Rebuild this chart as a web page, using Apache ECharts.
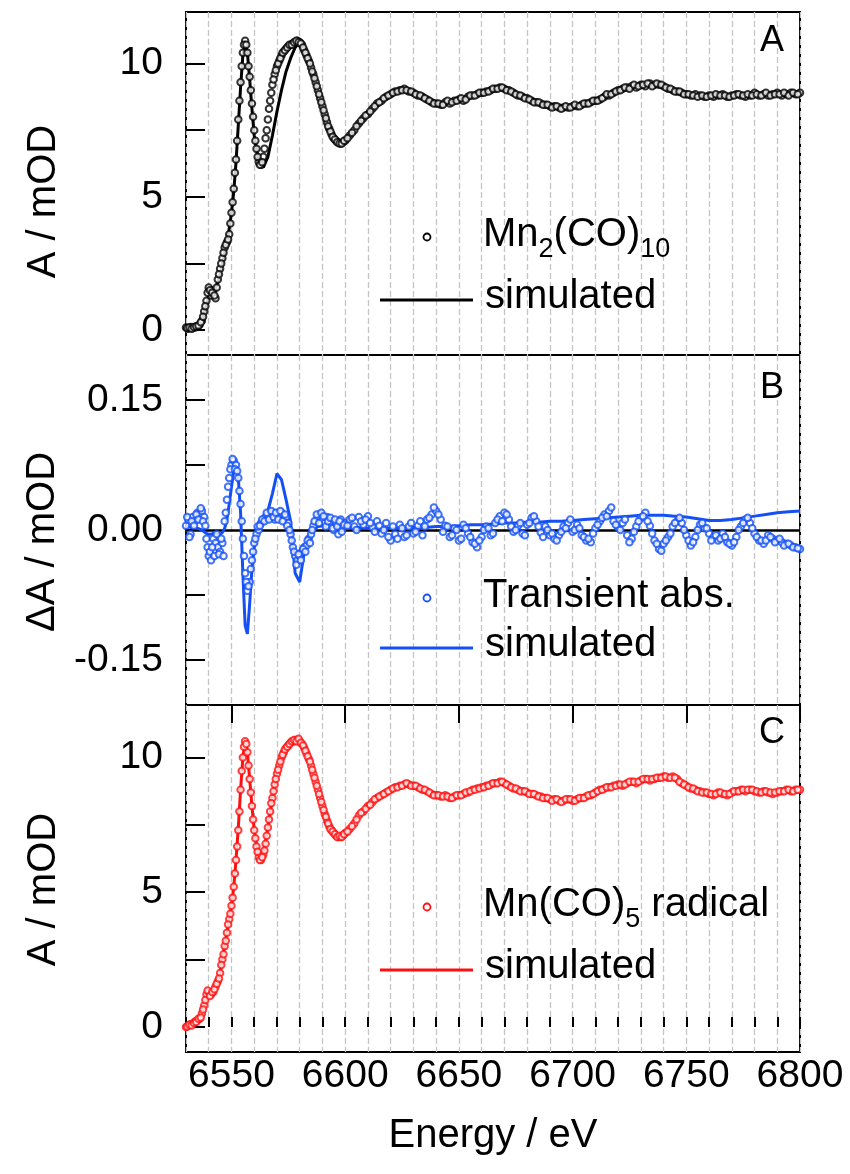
<!DOCTYPE html>
<html>
<head>
<meta charset="utf-8">
<script src="https://cdn.jsdelivr.net/npm/echarts@6/dist/echarts.min.js"></script>
<style>
html,body{margin:0;padding:0;background:#fff;}
#chart{width:850px;height:1174px;}
</style>
</head>
<body>
<div id="chart"></div>
<script>
// ---------- DATA ----------
// measured points, first pass (integer / even energies)
const E_DATA = [
6530,6531,6532,6533,6534,6535,6536,6537,6538,6539,
6540,6541,6542,6543,6544,6545,6546,6547,6548,6549,
6550,6551,6552,6553,6554,6555,6556,6557,6558,6559,
6560,6561,6562,6563,6564,6565,6566,6567,6568,6569,
6570,6571,6572,6573,6574,6575,6576,6577,6578,6579,
6580,6581,6582,6583,6584,6585,6586,6587,6588,6589,
6590,6591,6592,6593,6594,6595,6596,6597,6598,6599,
6600,
6602,6604,6606,6608,6610,6612,6614,6616,6618,6620,
6622,6624,6626,6628,6630,6632,6634,6636,6638,6640,
6642,6644,6646,6648,6650,6652,6654,6656,6658,6660,
6662,6664,6666,6668,6670,6672,6674,6676,6678,6680,
6682,6684,6686,6688,6690,6692,6694,6696,6698,6700,
6702,6704,6706,6708,6710,6712,6714,6716,6718,6720,
6722,6724,6726,6728,6730,6732,6734,6736,6738,6740,
6742,6744,6746,6748,6750,6752,6754,6756,6758,6760,
6762,6764,6766,6768,6770,6772,6774,6776,6778,6780,
6782,6784,6786,6788,6790,6792,6794,6796,6798,6800
];
const A_DATA = [
0.1,0.05,0.12,0.08,0.1,0.15,0.2,0.35,0.7,1.1,
1.6,1.3,1.5,1.2,1.9,2.3,2.7,3.1,3.3,3.6,
4.4,5.3,6.4,7.9,9.3,10.4,10.85,10.4,9.5,8.5,
7.5,6.8,6.3,6.2,6.5,7.2,7.9,8.6,9.2,9.6,
9.9,10.1,10.3,10.45,10.55,10.65,10.7,10.75,10.8,10.85,
10.8,10.7,10.5,10.3,10.1,9.85,9.6,9.3,9.0,8.7,
8.4,8.1,7.8,7.55,7.35,7.2,7.1,7.05,7.0,7.05,
7.1,
7.3,7.5,7.75,7.95,8.1,8.3,8.5,8.6,8.75,8.85,
8.95,9.0,9.05,8.95,8.9,8.8,8.75,8.65,8.55,8.5,
8.45,8.55,8.5,8.6,8.65,8.6,8.75,8.8,8.85,8.9,
8.95,9.0,9.05,9.1,9.05,9.0,8.9,8.8,8.75,8.7,
8.6,8.55,8.5,8.45,8.4,8.4,8.35,8.35,8.35,8.4,
8.4,8.45,8.5,8.55,8.6,8.65,8.75,8.8,8.9,9.0,
9.05,9.1,9.15,9.1,9.2,9.15,9.25,9.2,9.2,9.15,
9.05,9.0,8.95,8.9,8.85,8.8,8.85,8.8,8.75,8.8,
8.75,8.8,8.85,8.75,8.8,8.85,8.8,8.75,8.8,8.9,
8.8,8.85,8.8,8.85,8.9,8.8,8.85,8.9,8.85,8.9
];
const B_DATA = [
0.005,0.012,-0.005,0.015,0.01,0.02,0.018,0.022,0.015,-0.01,
-0.03,-0.035,-0.01,-0.015,-0.02,-0.025,-0.015,0.01,0.035,0.06,
0.075,0.08,0.075,0.06,0.03,-0.01,-0.05,-0.07,-0.06,-0.035,
-0.015,-0.005,0.0,0.008,0.012,0.015,0.018,0.015,0.02,0.012,
0.018,0.015,0.02,0.012,0.015,0.008,-0.005,-0.02,-0.03,-0.035,
-0.03,-0.025,-0.02,-0.018,-0.01,-0.005,0.005,0.01,0.015,0.018,
0.012,0.008,0.015,0.005,0.01,0.0,0.008,-0.005,0.012,0.003,
0.008,
0.012,0.004,0.015,0.006,0.016,0.003,0.01,-0.004,0.008,-0.012,
-0.005,0.006,-0.008,0.004,-0.004,0.005,-0.006,0.012,0.018,0.022,
0.012,0.005,-0.008,0.002,-0.012,0.006,-0.004,-0.014,-0.02,-0.008,
0.004,-0.006,0.008,0.016,0.02,0.012,-0.002,0.005,-0.004,0.006,
0.014,0.01,-0.003,0.004,-0.006,-0.01,-0.006,0.004,0.008,-0.002,
0.006,-0.006,-0.012,-0.014,0.002,0.01,0.018,0.022,0.01,0.003,
0.008,-0.006,-0.01,0.004,0.014,0.02,0.005,-0.012,-0.022,-0.016,
-0.008,0.004,0.01,0.008,-0.006,-0.018,-0.008,0.006,0.002,-0.004,
-0.008,-0.012,-0.004,-0.014,-0.018,-0.008,0.004,0.012,0.008,-0.004,
-0.012,-0.016,-0.006,-0.01,-0.012,-0.014,-0.016,-0.018,-0.02,-0.022
];
const C_DATA = [
0.0,0.05,0.1,0.12,0.2,0.25,0.3,0.5,0.8,1.2,
1.3,1.2,1.3,1.5,1.7,2.0,2.5,3.0,3.5,4.0,
4.5,5.2,6.2,7.3,8.8,10.0,10.6,10.2,9.2,8.2,
7.3,6.7,6.3,6.2,6.4,6.8,7.4,8.0,8.5,9.0,
9.4,9.7,10.0,10.2,10.35,10.45,10.55,10.6,10.65,10.65,
10.6,10.5,10.35,10.15,9.95,9.7,9.4,9.1,8.8,8.5,
8.2,7.9,7.65,7.45,7.3,7.2,7.1,7.05,7.05,7.1,
7.2,
7.35,7.55,7.85,8.0,8.2,8.35,8.5,8.6,8.7,8.8,
8.9,8.95,9.0,9.0,8.95,8.9,8.8,8.75,8.65,8.6,
8.55,8.6,8.5,8.55,8.6,8.65,8.7,8.8,8.85,8.9,
8.95,9.0,9.05,9.1,9.05,8.95,8.85,8.8,8.75,8.7,
8.65,8.6,8.55,8.5,8.45,8.45,8.4,8.4,8.45,8.4,
8.45,8.5,8.55,8.6,8.7,8.8,8.85,8.9,8.95,9.0,
8.95,9.05,9.1,9.05,9.15,9.2,9.15,9.2,9.25,9.3,
9.25,9.3,9.2,9.05,8.95,8.85,8.8,8.75,8.7,8.65,
8.6,8.7,8.65,8.6,8.7,8.75,8.8,8.75,8.8,8.75,
8.7,8.75,8.7,8.65,8.7,8.75,8.8,8.75,8.8,8.8
];
// measured points, interleaved pass (half / odd energies)
const E_DATA2 = [
6530.5,6531.5,6532.5,6533.5,6534.5,6535.5,6536.5,6537.5,6538.5,6539.5,
6540.5,6541.5,6542.5,6543.5,6544.5,6545.5,6546.5,6547.5,6548.5,6549.5,
6550.5,6551.5,6552.5,6553.5,6554.5,6555.5,6556.5,6557.5,6558.5,6559.5,
6560.5,6561.5,6562.5,6563.5,6564.5,6565.5,6566.5,6567.5,6568.5,6569.5,
6570.5,6571.5,6572.5,6573.5,6574.5,6575.5,6576.5,6577.5,6578.5,6579.5,
6580.5,6581.5,6582.5,6583.5,6584.5,6585.5,6586.5,6587.5,6588.5,6589.5,
6590.5,6591.5,6592.5,6593.5,6594.5,6595.5,6596.5,6597.5,6598.5,6599.5,
6601,6603,6605,6607,6609,6611,6613,6615,6617,6619,
6621,6623,6625,6627,6629,6631,6633,6635,6637,6639,
6641,6643,6645,6647,6649,6651,6653,6655,6657,6659,
6661,6663,6665,6667,6669,6671,6673,6675,6677,6679,
6681,6683,6685,6687,6689,6691,6693,6695,6697,6699,
6701,6703,6705,6707,6709,6711,6713,6715,6717,6719,
6721,6723,6725,6727,6729,6731,6733,6735,6737,6739,
6741,6743,6745,6747,6749,6751,6753,6755,6757,6759,
6761,6763,6765,6767,6769,6771,6773,6775,6777,6779,
6781,6783,6785,6787,6789,6791,6793,6795,6797,6799
];
const A_DATA2 = [
0.08,0.1,0.05,0.12,0.15,0.18,0.3,0.5,0.9,1.4,
1.5,1.4,1.3,1.6,2.1,2.5,2.9,3.2,3.4,4.0,
4.8,5.9,7.1,8.6,9.9,10.7,10.7,9.9,9.0,8.0,
7.1,6.5,6.2,6.3,6.8,7.5,8.3,8.9,9.4,9.75,
10.0,10.2,10.4,10.5,10.6,10.7,10.7,10.8,10.85,10.8,
10.75,10.6,10.4,10.2,10.0,9.7,9.45,9.15,8.85,8.55,
8.25,7.95,7.65,7.45,7.25,7.15,7.05,7.0,7.0,7.1,
7.2,7.4,7.65,7.85,8.05,8.2,8.4,8.55,8.7,8.8,
8.9,8.95,9.0,9.0,8.95,8.85,8.8,8.7,8.6,8.5,
8.5,8.45,8.6,8.55,8.6,8.7,8.65,8.8,8.8,8.9,
8.9,8.95,9.05,9.05,9.1,9.0,8.95,8.85,8.8,8.7,
8.65,8.55,8.55,8.45,8.45,8.35,8.4,8.3,8.4,8.35,
8.45,8.4,8.5,8.5,8.6,8.6,8.7,8.85,8.85,8.95,
9.0,9.1,9.05,9.2,9.15,9.2,9.25,9.15,9.25,9.2,
9.1,9.05,8.95,8.95,8.85,8.85,8.8,8.75,8.8,8.75,
8.8,8.85,8.8,8.8,8.75,8.8,8.85,8.8,8.85,8.8,
8.85,8.8,8.9,8.8,8.85,8.85,8.9,8.8,8.9,8.85
];
const B_DATA2 = [
0.015,-0.008,0.01,0.005,0.018,0.012,0.025,0.01,0.005,-0.02,
-0.025,-0.02,-0.03,-0.005,-0.028,-0.01,-0.03,0.02,0.05,0.07,
0.082,0.07,0.068,0.045,0.01,-0.03,-0.06,-0.065,-0.045,-0.025,
-0.01,0.004,0.005,0.012,0.01,0.02,0.012,0.022,0.015,0.02,
0.012,0.022,0.01,0.018,0.005,0.0,-0.012,-0.025,-0.04,-0.028,
-0.035,-0.022,-0.025,-0.012,-0.015,0.0,0.01,0.018,0.008,0.02,
0.016,0.004,0.01,0.014,0.002,0.012,0.004,0.01,-0.002,0.006,
0.005,0.014,0.0,0.01,0.012,0.008,-0.002,0.005,0.0,-0.008,
0.004,-0.01,0.002,-0.006,0.008,-0.002,0.01,0.004,0.014,0.026,
0.018,-0.002,0.004,-0.006,0.0,-0.01,0.002,-0.008,-0.016,-0.012,
0.0,0.002,-0.004,0.012,0.01,0.018,0.004,0.0,0.008,-0.006,
0.008,0.016,0.004,-0.008,0.0,-0.004,-0.012,-0.002,0.002,0.012,
0.0,0.002,-0.008,-0.01,-0.004,0.006,0.014,0.016,0.026,0.006,
0.0,0.012,-0.014,-0.002,0.01,0.016,0.01,-0.004,-0.016,-0.024,
-0.012,-0.004,0.008,0.014,0.0,-0.012,-0.014,0.0,0.008,0.002,
-0.012,-0.006,-0.01,-0.008,-0.016,-0.014,0.0,0.008,0.014,0.002,
-0.008,-0.012,-0.012,-0.008,-0.014,-0.01,-0.018,-0.016,-0.02,-0.021
];
const C_DATA2 = [
0.02,0.08,0.05,0.15,0.18,0.3,0.35,0.65,1.0,1.35,
1.15,1.3,1.4,1.6,1.8,2.3,2.7,3.2,3.8,4.2,
4.8,5.7,6.7,8.0,9.5,10.4,10.5,9.7,8.7,7.7,
7.0,6.5,6.2,6.3,6.55,7.1,7.7,8.3,8.75,9.2,
9.55,9.85,10.1,10.3,10.4,10.5,10.6,10.65,10.6,10.7,
10.55,10.45,10.25,10.05,9.85,9.55,9.25,8.95,8.65,8.35,
8.05,7.8,7.55,7.35,7.25,7.15,7.05,7.1,7.05,7.15,
7.25,7.45,7.7,7.95,8.1,8.25,8.45,8.55,8.65,8.75,
8.85,8.9,8.95,9.05,8.95,8.95,8.85,8.8,8.7,8.6,
8.6,8.55,8.55,8.5,8.6,8.6,8.7,8.75,8.8,8.85,
8.9,8.95,9.05,9.05,9.1,9.0,8.9,8.85,8.75,8.75,
8.65,8.65,8.55,8.5,8.5,8.4,8.45,8.35,8.45,8.45,
8.4,8.5,8.5,8.6,8.65,8.75,8.8,8.9,8.9,8.95,
9.0,9.0,9.1,9.1,9.1,9.2,9.2,9.2,9.25,9.25,
9.3,9.25,9.25,9.1,9.0,8.9,8.85,8.75,8.7,8.7,
8.65,8.65,8.7,8.65,8.65,8.75,8.75,8.8,8.8,8.8,
8.75,8.7,8.75,8.7,8.7,8.75,8.75,8.8,8.75,8.8
];
// simulated curves
const E_SIM = [
6530,6531,6532,6533,6534,6535,6536,6537,6538,6539,
6540,6541,6542,6543,6544,6545,6546,6547,6548,6549,
6550,6551,6552,6553,6554,6555,6556,6557,6558,6559,
6560,
6562,6564,6566,6568,6570,6572,6574,6576,6578,6580,
6582,6584,6586,6588,6590,6592,6594,6596,6598,6600,
6605,6610,6615,6620,6625,6630,6635,6640,6645,6650,
6655,6660,6665,6670,6675,6680,6685,6690,6695,6700,
6705,6710,6715,6720,6725,6730,6735,6740,6745,6750,
6755,6760,6765,6770,6775,6780,6785,6790,6795,6800
];
const A_SIM = [
0.05,0.05,0.06,0.08,0.1,0.15,0.22,0.35,0.6,0.95,
1.25,1.4,1.5,1.6,1.8,2.1,2.5,2.9,3.3,3.8,
4.4,5.2,6.3,7.7,9.1,10.3,10.8,10.4,9.4,8.3,
7.3,
6.3,6.1,6.5,7.3,8.2,9.0,9.7,10.2,10.6,10.8,
10.6,10.1,9.5,8.8,8.2,7.7,7.3,7.1,7.0,7.1,
7.6,8.1,8.55,8.85,9.0,8.95,8.75,8.55,8.5,8.6,
8.75,8.9,9.0,9.05,8.9,8.7,8.55,8.45,8.4,8.4,
8.5,8.6,8.75,8.95,9.1,9.15,9.2,9.15,9.0,8.9,
8.8,8.75,8.75,8.75,8.8,8.8,8.8,8.8,8.85,8.85
];
const B_SIM = [
0.004,0.004,0.003,0.003,0.002,0.002,0.001,0.0,-0.002,-0.004,
-0.005,-0.005,-0.004,-0.004,-0.005,-0.005,-0.003,0.002,0.012,0.03,
0.05,0.068,0.075,0.06,0.02,-0.05,-0.11,-0.12,-0.085,-0.045,
-0.02,
0.0,0.01,0.022,0.042,0.065,0.058,0.035,0.01,-0.05,-0.06,
-0.025,-0.008,0.0,0.004,0.005,0.004,0.003,0.003,0.003,0.003,
0.003,0.002,0.002,0.002,0.002,0.003,0.003,0.004,0.004,0.005,
0.006,0.006,0.007,0.008,0.008,0.009,0.009,0.01,0.01,0.011,
0.012,0.013,0.014,0.015,0.016,0.017,0.017,0.017,0.016,0.015,
0.013,0.011,0.011,0.012,0.014,0.016,0.018,0.02,0.021,0.022
];
const C_SIM = [
0.0,0.02,0.05,0.08,0.12,0.2,0.3,0.5,0.8,1.1,
1.25,1.3,1.35,1.5,1.7,2.0,2.5,3.0,3.5,4.0,
4.5,5.2,6.2,7.4,8.8,10.0,10.6,10.2,9.2,8.2,
7.3,
6.3,6.4,7.4,8.5,9.4,10.0,10.35,10.55,10.65,10.6,
10.35,9.95,9.4,8.8,8.2,7.65,7.3,7.1,7.05,7.2,
7.75,8.2,8.55,8.8,8.95,8.95,8.8,8.65,8.55,8.6,
8.75,8.9,9.0,9.05,8.85,8.7,8.6,8.5,8.42,8.42,
8.5,8.7,8.88,9.0,9.05,9.15,9.2,9.25,9.2,8.95,
8.8,8.7,8.65,8.65,8.7,8.75,8.72,8.72,8.75,8.77
];
const X_TICK_LABELS = [6550, 6600, 6650, 6700, 6750, 6800];
const YA_TICK_LABELS = [0, 5, 10];
const YA_TICKS = [0, 2.5, 5, 7.5, 10];
const YB_TICK_LABELS = [-0.15, 0, 0.15];
const YB_TICKS = [-0.15, -0.075, 0, 0.075, 0.15];
const SERIES_NAMES = ['Mn2(CO)10', 'Transient abs.', 'Mn(CO)5 radical'];
const LEGEND_RICH = ['{b|Mn}{s|2}{b|(CO)}{s|10}', '{b|Transient abs.}', '{b|Mn(CO)}{s|5}{b| radical}'];
const SIM_LABEL = 'simulated';
const PANEL_LETTERS = ['A', 'B', 'C'];
const Y_NAMES = ['A / mOD', 'ΔA / mOD', 'A / mOD'];
const X_NAME = 'Energy / eV';

// ---------- CHART ----------
const FONT = '"Liberation Sans", Arial, sans-serif';
const pair = (xs, ys) => xs.map((x, i) => [x, ys[i]]);
const BLACK = '#000', BLUE = '#1450f5', RED = '#ff1010';
const COLORS = [BLACK, BLUE, RED];

const chart = echarts.init(document.getElementById('chart'), null, {renderer: 'canvas'});

const gridDefs = [
  {left: 186, right: 50, top: 12, height: 343},
  {left: 186, right: 50, top: 355, height: 350},
  {left: 186, right: 50, top: 705, height: 347}
];
const grids = gridDefs.map(g => Object.assign({show: true, borderColor: BLACK, borderWidth: 2, backgroundColor: 'transparent'}, g));

const splitLine = {show: true, lineStyle: {color: '#c4c4c4', width: 1.3, type: [6, 3]}};
function xAxisBase(i) {
  return {
    type: 'value', gridIndex: i, min: 6530, max: 6800, interval: 10,
    axisLine: {show: false}, axisTick: {show: false}, axisLabel: {show: false},
    splitLine: splitLine
  };
}
const xAxes = [xAxisBase(0), xAxisBase(1), xAxisBase(2)];
xAxes[2].axisTick = {show: true, inside: true, length: 10, lineStyle: {color: BLACK, width: 2}};
xAxes[2].axisLabel = {show: true, customValues: X_TICK_LABELS, fontSize: 39, fontFamily: FONT, color: BLACK, margin: 5,
  formatter: v => String(v)};
xAxes[2].name = X_NAME;
xAxes[2].nameLocation = 'middle';
xAxes[2].nameGap = 64;
xAxes[2].nameTextStyle = {fontSize: 40, fontFamily: FONT, color: BLACK};
// major tick overlay
xAxes.push({
  type: 'value', gridIndex: 2, min: 6530, max: 6800,
  axisLine: {show: false}, axisLabel: {show: false}, splitLine: {show: false},
  axisTick: {show: true, inside: true, length: 18, customValues: X_TICK_LABELS, lineStyle: {color: BLACK, width: 2}}
});

const namePad = [36, 24, 22];
function yAxis(i, min, max, ticks, labels, fmt) {
  return {
    type: 'value', gridIndex: i, min: min, max: max,
    axisLine: {show: false},
    splitLine: {show: false},
    axisTick: {show: true, inside: true, length: 19, customValues: ticks, lineStyle: {color: BLACK, width: 2}},
    axisLabel: {show: true, customValues: labels, fontSize: 39, fontFamily: FONT, color: BLACK, margin: 23, formatter: fmt},
    name: Y_NAMES[i], nameLocation: 'middle', nameGap: 122,
    nameTextStyle: {fontSize: 40, fontFamily: FONT, color: BLACK, padding: [0, namePad[i], 0, 0]}
  };
}
const yAxes = [
  yAxis(0, -0.93, 11.93, YA_TICKS, YA_TICK_LABELS, v => String(v)),
  yAxis(1, -0.202, 0.202, YB_TICKS, YB_TICK_LABELS, v => (Math.abs(v) < 1e-9 ? 0 : v).toFixed(2)),
  yAxis(2, -0.93, 11.95, YA_TICKS, YA_TICK_LABELS, v => String(v))
];

function simSeries(idx, xs, ys, extra) {
  const color = COLORS[idx];
  return Object.assign({
    type: 'line', name: SIM_LABEL + ' ' + PANEL_LETTERS[idx], xAxisIndex: idx, yAxisIndex: idx,
    data: pair(xs, ys), symbol: 'none', smooth: false,
    lineStyle: {color: color, width: 3}, itemStyle: {color: color},
    z: 2, silent: true, animation: false
  }, extra || {});
}
function dataSeries(idx, xs, ys, xs2, ys2) {
  const color = COLORS[idx];
  return {
    type: 'scatter', name: SERIES_NAMES[idx], xAxisIndex: idx, yAxisIndex: idx,
    data: pair(xs, ys).concat(pair(xs2, ys2)), symbol: 'emptyCircle', symbolSize: 6.5,
    itemStyle: {color: color, borderColor: color, borderWidth: 1.8},
    z: 3, silent: true, animation: false
  };
}

const series = [
  simSeries(0, E_SIM, A_SIM),
  dataSeries(0, E_DATA, A_DATA, E_DATA2, A_DATA2),
  simSeries(1, E_SIM, B_SIM, {
    markLine: {silent: true, symbol: 'none', label: {show: false},
      lineStyle: {color: BLACK, width: 2.5, type: 'solid'}, data: [{yAxis: 0}], z: 1}
  }),
  dataSeries(1, E_DATA, B_DATA, E_DATA2, B_DATA2),
  simSeries(2, E_SIM, C_SIM),
  dataSeries(2, E_DATA, C_DATA, E_DATA2, C_DATA2)
];

// legend entries (drawn as graphics for exact placement)
const richStyles = {
  b: {fontSize: 40, fontFamily: FONT, fill: BLACK, lineHeight: 56, verticalAlign: 'middle'},
  s: {fontSize: 27, fontFamily: FONT, fill: BLACK, lineHeight: 27, verticalAlign: 'bottom'}
};
const legendRows = [[237, 300], [598, 648], [907, 970]];
const graphic = [];
legendRows.forEach((r, i) => {
  graphic.push({type: 'circle', shape: {cx: 427, cy: r[0], r: 3.5}, z: 10,
    style: {fill: '#fff', stroke: COLORS[i], lineWidth: 1.8}});
  graphic.push({type: 'text', x: 483, y: r[0] - 2, z: 10,
    style: {text: LEGEND_RICH[i], rich: richStyles, verticalAlign: 'middle', align: 'left'}});
  graphic.push({type: 'line', shape: {x1: 380, y1: r[1], x2: 473, y2: r[1]}, z: 10,
    style: {stroke: COLORS[i], lineWidth: 3}});
  graphic.push({type: 'text', x: 485, y: r[1] - 3, z: 10,
    style: {text: SIM_LABEL, font: '40px ' + FONT, fill: BLACK, verticalAlign: 'middle', align: 'left'}});
});
const letterPos = [[772, 41], [772, 388], [772, 733]];
PANEL_LETTERS.forEach((t, i) => graphic.push({
  type: 'text', x: letterPos[i][0], y: letterPos[i][1], z: 10,
  style: {text: t, font: '36px ' + FONT, fill: BLACK, align: 'center', verticalAlign: 'middle'}
}));

chart.setOption({
  animation: false,
  backgroundColor: '#fff',
  grid: grids,
  xAxis: xAxes,
  yAxis: yAxes,
  series: series,
  graphic: graphic
});
</script>
</body>
</html>
